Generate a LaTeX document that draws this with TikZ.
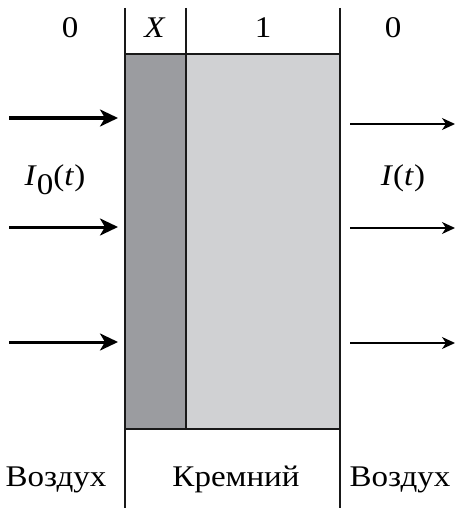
\documentclass[tikz,border=0pt]{standalone}
\usepackage{fontspec}
\setmainfont{Liberation Serif}
\usetikzlibrary{arrows.meta}
\definecolor{darkfill}{RGB}{155,156,160}
\definecolor{lightfill}{RGB}{208,209,211}
\tikzset{
  lbl/.style={font=\fontsize{30}{34}\selectfont, inner sep=0pt, anchor=base, xscale=1.1, transform shape},
  frame/.style={line width=1.6pt, draw=black!90},
  inarrow/.style={line width=3pt, -{Stealth[length=18pt,width=17pt,inset=5pt]}},
  outarrow/.style={line width=1.5pt, -{Stealth[length=13pt,width=12pt,inset=4pt]}}
}
\begin{document}
\begin{tikzpicture}[x=1pt,y=-1pt]
\useasboundingbox (0,0) rectangle (455,508);
% layers
\fill[darkfill] (125,54) rectangle (186,429);
\fill[lightfill] (186,54) rectangle (340,429);
% frame lines
\draw[frame] (125,8) -- (125,508);
\draw[frame] (340,8) -- (340,508);
\draw[frame] (186,8) -- (186,429);
\draw[frame] (125,54) -- (340,54);
\draw[frame] (125,429) -- (340,429);
% top labels
\node[lbl] (z1) at (70,38) {0};
\node[lbl] (x) at (155,38) {\textit{X}};
\node[lbl] (one) at (263,38) {1};
\node[lbl] (z2) at (393,38) {0};
% intensity labels
\node[lbl] (i0) at (55,185) {\textit{I}\raisebox{-0.3em}{0}(\textit{t})};
\node[lbl] (i) at (403,185) {\textit{I}(\textit{t})};
% bottom labels
\node[lbl] (air1) at (56,486) {Воздух};
\node[lbl] (si) at (236,486) {Кремний};
\node[lbl] (air2) at (400,486) {Воздух};
% arrow coordinates
\coordinate (a1s) at (9,118);  \coordinate (a1e) at (118,118);
\coordinate (a2s) at (9,227);  \coordinate (a2e) at (118,227);
\coordinate (a3s) at (9,342);  \coordinate (a3e) at (118,342);
\coordinate (b1s) at (350,124); \coordinate (b1e) at (455,124);
\coordinate (b2s) at (350,228); \coordinate (b2e) at (455,228);
\coordinate (b3s) at (350,343); \coordinate (b3e) at (455,343);
\draw[inarrow] (a1s) -- (a1e);
\draw[inarrow] (a2s) -- (a2e);
\draw[inarrow] (a3s) -- (a3e);
\draw[outarrow] (b1s) -- (b1e);
\draw[outarrow] (b2s) -- (b2e);
\draw[outarrow] (b3s) -- (b3e);
\end{tikzpicture}
\end{document}
